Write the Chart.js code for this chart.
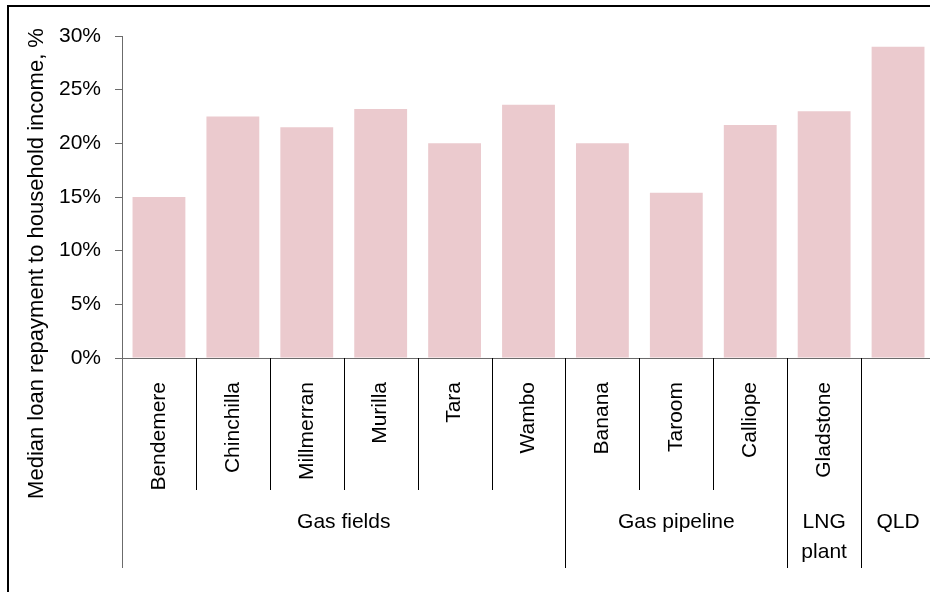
<!DOCTYPE html>
<html>
<head>
<meta charset="utf-8">
<script src="https://cdn.jsdelivr.net/npm/chart.js@4/dist/chart.umd.min.js"></script>
<style>
  html, body { margin: 0; padding: 0; overflow: hidden; background: #fff; width: 930px; height: 592px; }
  #wrap { position: absolute; left: 0; top: 0; width: 945px; height: 592px; }
</style>
</head>
<body>
<div id="wrap"><canvas id="c"></canvas></div>
<script>
// ---- data ----
const categories = ['Bendemere', 'Chinchilla', 'Millmerran', 'Murilla', 'Tara', 'Wambo',
                    'Banana', 'Taroom', 'Calliope', 'Gladstone', 'QLD_'];
const cityLabels = ['Bendemere', 'Chinchilla', 'Millmerran', 'Murilla', 'Tara', 'Wambo',
                    'Banana', 'Taroom', 'Calliope', 'Gladstone', ''];
const repaymentPct = [15.0, 22.5, 21.5, 23.2, 20.0, 23.6, 20.0, 15.4, 21.7, 23.0, 29.0];
const groupLabels = [['Gas fields'], ['Gas pipeline'], ['LNG', 'plant'], ['QLD']];
const groupSizes = [6, 3, 1, 1];
const yTickValues = [0, 5, 10, 15, 20, 25, 30];
const yTitle = 'Median loan repayment to household income, %';

const FONT = '"Liberation Sans", Arial, sans-serif';
const AXIS_GREY = '#6b6b6b';

const decor = {
  id: 'decor',
  afterDraw(chart) {
    const ctx = chart.ctx;
    const x = chart.scales.x;
    const area = chart.chartArea;
    const yBottom = area.bottom;
    const n = categories.length;
    const boundary = (i) => (x.getPixelForValue(i) + x.getPixelForValue(i + 1)) / 2;
    ctx.save();
    // frame
    ctx.strokeStyle = '#000';
    ctx.lineWidth = 2;
    ctx.beginPath();
    ctx.moveTo(7, 6); ctx.lineTo(chart.width, 6);
    ctx.moveTo(8, 5); ctx.lineTo(8, chart.height);
    ctx.stroke();
    // y axis extension
    ctx.strokeStyle = AXIS_GREY;
    ctx.lineWidth = 1;
    ctx.beginPath();
    ctx.moveTo(Math.round(area.left) + 0.5, yBottom);
    ctx.lineTo(Math.round(area.left) + 0.5, 568);
    ctx.stroke();
    // separators
    const groupEnds = [];
    let acc = 0;
    groupSizes.forEach(s => { acc += s; groupEnds.push(acc - 1); });
    ctx.strokeStyle = '#000';
    ctx.beginPath();
    for (let i = 0; i < n - 1; i++) {
      const bx = Math.round(boundary(i)) + 0.5;
      const isGroup = groupEnds.includes(i);
      ctx.moveTo(bx, yBottom);
      ctx.lineTo(bx, isGroup ? 568 : 490);
    }
    ctx.stroke();
    // group labels
    ctx.fillStyle = '#000';
    ctx.font = '21px ' + FONT;
    ctx.textAlign = 'center';
    ctx.textBaseline = 'alphabetic';
    let start = 0;
    groupSizes.forEach((s, gi) => {
      const left = start === 0 ? area.left : boundary(start - 1);
      const right = boundary(start + s - 1);
      const cx = (left + right) / 2;
      groupLabels[gi].forEach((line, li) => ctx.fillText(line, cx, 528 + li * 30));
      start += s;
    });
    // y title
    ctx.font = '22px ' + FONT;
    ctx.translate(43, 263.5);
    ctx.rotate(-Math.PI / 2);
    ctx.fillText(yTitle, 0, 0);
    ctx.restore();
  }
};

new Chart(document.getElementById('c'), {
  type: 'bar',
  data: {
    labels: categories,
    datasets: [{
      data: repaymentPct,
      backgroundColor: '#EBCACE',
      borderWidth: 0,
      barPercentage: 0.715,
      categoryPercentage: 1.0
    }]
  },
  options: {
    responsive: true,
    maintainAspectRatio: false,
    animation: false,
    layout: { padding: { left: 0, top: 36, right: 10, bottom: 0 } },
    plugins: { legend: { display: false }, tooltip: { enabled: false } },
    scales: {
      x: {
        type: 'category',
        grid: { display: false },
        border: { display: true, color: AXIS_GREY, width: 1 },
        ticks: {
          autoSkip: false,
          maxRotation: 90,
          minRotation: 90,
          padding: 16,
          color: '#000',
          font: { family: FONT, size: 21 },
          callback: (v, i) => cityLabels[i]
        },
        afterFit: (s) => { s.height = 234; }
      },
      y: {
        min: 0,
        max: 30,
        grid: { drawOnChartArea: false, drawTicks: true, tickLength: 7, color: AXIS_GREY },
        border: { display: true, color: AXIS_GREY, width: 1 },
        afterBuildTicks: (s) => { s.ticks = yTickValues.map(v => ({ value: v })); },
        ticks: {
          padding: 14,
          color: '#000',
          font: { family: FONT, size: 21 },
          callback: (v) => v + '%'
        },
        afterFit: (s) => { s.width = 122; }
      }
    }
  },
  plugins: [decor]
});
</script>
</body>
</html>
